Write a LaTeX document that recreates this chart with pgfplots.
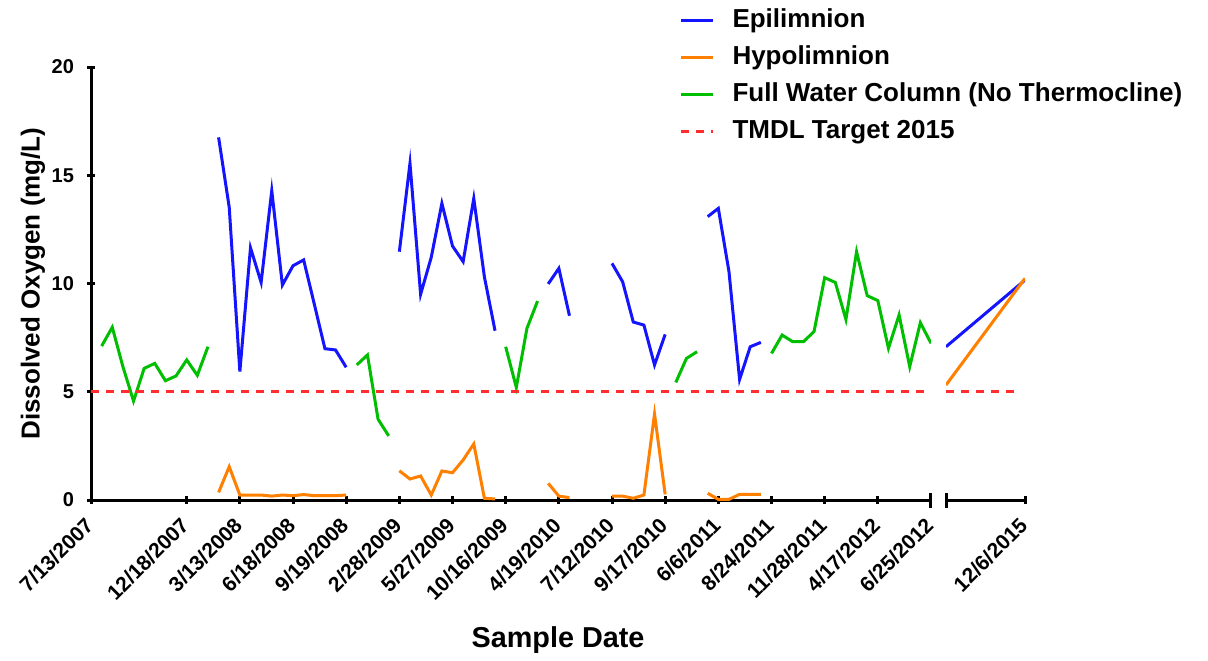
\documentclass[border=0pt]{standalone}
\usepackage{fontspec}
\setmainfont{Liberation Sans}
\usepackage{pgfplots}
\pgfplotsset{compat=1.18}
\definecolor{epi}{RGB}{20,20,255}
\definecolor{hypo}{RGB}{255,128,0}
\definecolor{full}{RGB}{0,190,0}
\definecolor{tmdl}{RGB}{255,45,45}
\pgfplotsset{
  commonstyle/.style={
    scale only axis,
    height=216.5pt,
    ymin=0, ymax=20,
    major tick style={line width=1.5pt, black},
    major tick length=4pt,
    tick align=outside,
    xticklabel style={rotate=45, anchor=east, inner sep=1pt, xshift=-5.66pt, yshift=-5.66pt, font=\bfseries\fontsize{10.5}{12}\selectfont},
    yticklabel style={font=\bfseries\fontsize{10}{12}\selectfont, xshift=-3pt, /pgf/number format/assume math mode=true},
    unbounded coords=jump,
    every axis plot/.append style={line width=1.5pt},
  }
}
\begin{document}
\begin{tikzpicture}
\path[use as bounding box] (-45.5pt,-80pt) rectangle (558.5pt,250pt);
\begin{axis}[
  commonstyle,
  at={(0pt,0pt)}, anchor=south west,
  width=420pt,
  xmin=0, xmax=79,
  axis x line=bottom, axis y line=left,
  axis line style={-, line width=1.5pt, black},
  xtick={0,9,14,19,24,29,34,39,44,49,54,59,64,69,74,79},
  xticklabels={7/13/2007,12/18/2007,3/13/2008,6/18/2008,9/19/2008,2/28/2009,5/27/2009,10/16/2009,4/19/2010,7/12/2010,9/17/2010,6/6/2011,8/24/2011,11/28/2011,4/17/2012,6/25/2012},
  extra x ticks={79},
  extra x tick labels={},
  extra x tick style={major tick length=7.5pt, tick align=center},
  ytick={0,5,10,15,20},
  xlabel={Sample Date},
  xlabel style={at={(axis description cs:0.556,0)}, anchor=center, yshift=-70pt, font=\bfseries\fontsize{14.4}{17}\selectfont},
  ylabel={Dissolved Oxygen (mg/L)},
  ylabel style={at={(axis description cs:0,0.5)}, anchor=center, yshift=29pt, font=\bfseries\fontsize{13}{15}\selectfont},
  legend style={at={(axis description cs:0.693,1.16)}, anchor=north west, draw=none, fill=none,
    font=\bfseries\fontsize{13}{15}\selectfont,
    nodes={text height=9.5pt, text depth=2.8pt, inner ysep=3.1pt, inner xsep=9pt}},
  legend cell align=left,
  legend image code/.code={\draw[#1] (0pt,0pt) -- (16pt,0pt);},
]
\addplot[epi] coordinates {
(12,16.75) (13,13.52) (14,5.93) (15,11.65) (16,10.05) (17,14.29) (18,9.93) (19,10.82) (20,11.09) (21,9.05) (22,6.99) (23,6.93) (24,6.13)
(26,nan)
(29,11.47) (30,15.55) (31,9.50) (32,11.21) (33,13.70) (34,11.73) (35,11.01) (36,13.93) (37,10.3) (38,7.82)
(40,nan)
(43,9.98) (44,10.70) (45,8.51)
(47,nan)
(49,10.93) (50,10.08) (51,8.22) (52,8.08) (53,6.24) (54,7.65)
(56,nan)
(58,13.09) (59,13.47) (60,10.55) (61,5.57) (62,7.08) (63,7.28)
};
\addlegendentry{Epilimnion}
\addplot[hypo] coordinates {
(12,0.35) (13,1.54) (14,0.23) (15,0.23) (16,0.23) (17,0.18) (18,0.23) (19,0.20) (20,0.25) (21,0.20) (22,0.20) (23,0.20) (24,0.23)
(26,nan)
(29,1.35) (30,0.97) (31,1.11) (32,0.23) (33,1.34) (34,1.26) (35,1.85) (36,2.59) (37,0.08) (38,0.05)
(40,nan)
(43,0.77) (44,0.18) (45,0.11)
(47,nan)
(49,0.18) (50,0.18) (51,0.08) (52,0.23) (53,3.97) (54,0.26)
(56,nan)
(58,0.31) (59,0.03) (60,0.03) (61,0.26) (62,0.26) (63,0.26)
};
\addlegendentry{Hypolimnion}
\addplot[full] coordinates {
(1,7.11) (2,7.98) (3,6.16) (4,4.57) (5,6.08) (6,6.31) (7,5.51) (8,5.73) (9,6.47) (10,5.76) (11,7.08)
(18,nan)
(25,6.24) (26,6.70) (27,3.73) (28,2.96)
(33,nan)
(39,7.08) (40,5.20) (41,7.93) (42,9.19)
(48,nan)
(55,5.43) (56,6.54) (57,6.85)
(60,nan)
(64,6.77) (65,7.62) (66,7.31) (67,7.31) (68,7.78) (69,10.27) (70,10.05) (71,8.34) (72,11.47) (73,9.44) (74,9.21) (75,7.01) (76,8.55) (77,6.16) (78,8.19) (79,7.24)
};
\addlegendentry{Full Water Column (No Thermocline)}
\addplot[tmdl, dash pattern=on 4pt off 3.5pt] coordinates {(0,5) (79,5)};
\addlegendentry{TMDL Target 2015}
\end{axis}
\begin{axis}[
  commonstyle,
  at={(427.5pt,0pt)}, anchor=south west,
  width=39.5pt,
  xmin=0, xmax=1,
  axis x line=bottom, axis y line=none,
  axis line style={-, line width=1.5pt, black},
  ytick=\empty,
  xtick={1},
  xticklabels={12/6/2015},
  extra x ticks={0},
  extra x tick labels={},
  extra x tick style={major tick length=7.5pt, tick align=center},
]
\addplot[epi] coordinates {(0,7.08) (1,10.16)};
\addplot[hypo] coordinates {(0,5.31) (1,10.24)};
\addplot[tmdl, dash pattern=on 4pt off 3.5pt] coordinates {(0,5) (0.9,5)};
\end{axis}
\end{tikzpicture}
\end{document}
